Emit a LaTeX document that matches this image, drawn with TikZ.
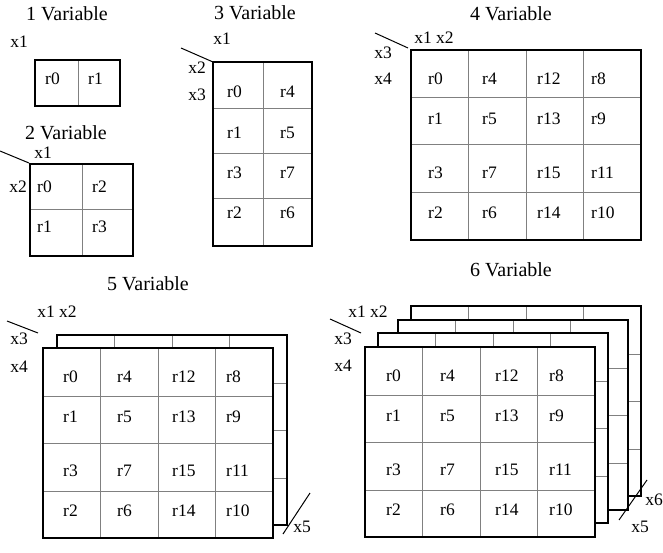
\documentclass[tikz,border=0pt]{standalone}
\usepackage{fontspec}
\setmainfont{Liberation Serif}
\newfontfamily\timesfam{Liberation Serif}
\tikzset{
  boxfill/.style={fill=white},
  outerline/.style={draw=black, line width=2pt, line join=miter},
  innerline/.style={draw=black!50, line width=1pt},
  lab/.style={font=\timesfam\fontsize{17.5}{20}\selectfont, inner sep=0pt},
  ttl/.style={font=\timesfam\fontsize{20}{24}\selectfont, inner sep=0pt},
  diag/.style={draw=black, line width=1pt},
}
\newcommand\kgrid[2]{%
  \begin{scope}[shift={(#1,#2)}]
    \path[boxfill] (0,0) rectangle (230,190);
    \draw[innerline] (57,0)--(57,190) (115,0)--(115,190) (172,0)--(172,190)
      (0,48)--(230,48) (0,95)--(230,95) (0,143)--(230,143);
    \draw[outerline] (0,0) rectangle (230,190);
  \end{scope}}
\newcommand\klabels[3]{%
  \begin{scope}[shift={(#2,#3)}]
    \foreach \t/\c/\r in {r0/0/29,r4/54/29,r12/109/29,r8/163/29,
                          r1/0/69,r5/54/69,r13/109/69,r9/163/69,
                          r3/0/123,r7/54/123,r15/109/123,r11/163/123,
                          r2/0/163,r6/54/163,r14/109/163,r10/163/163}
      \node[lab, anchor=west] (#1\t) at (\c,\r) {\t};
  \end{scope}}
\begin{document}
\begin{tikzpicture}[x=1pt,y=-1pt]
\useasboundingbox (0,0) rectangle (663,553);
\fill[white] (0,0) rectangle (663,553);

% ---------- 1 Variable ----------
\node[ttl] (t1) at (67,14) {1 Variable};
\node[lab] (v1x1) at (19,42) {x1};
\path[boxfill] (35,60) rectangle (120,106);
\draw[innerline] (78,60) -- (78,106);
\draw[outerline] (35,60) rectangle (120,106);
\node[lab, anchor=west] (v1r0) at (45,79) {r0};
\node[lab, anchor=west] (v1r1) at (88,79) {r1};

% ---------- 2 Variable ----------
\node[ttl] (t2) at (66,133) {2 Variable};
\node[lab] (v2x1) at (43,153) {x1};
\node[lab] (v2x2) at (18,187) {x2};
\coordinate (v2a) at (0,151);
\coordinate (v2b) at (29,163);
\draw[diag] (v2a) -- (v2b);
\path[boxfill] (30,164) rectangle (133,256);
\draw[innerline] (82,164) -- (82,256) (30,210) -- (133,210);
\draw[outerline] (30,164) rectangle (133,256);
\node[lab, anchor=west] (v2r0) at (37,187) {r0};
\node[lab, anchor=west] (v2r2) at (92,187) {r2};
\node[lab, anchor=west] (v2r1) at (37,227) {r1};
\node[lab, anchor=west] (v2r3) at (92,227) {r3};

% ---------- 3 Variable ----------
\node[ttl] (t3) at (255,13) {3 Variable};
\node[lab] (v3x1) at (222,39) {x1};
\node[lab] (v3x2) at (197,68) {x2};
\node[lab] (v3x3) at (197,95) {x3};
\coordinate (v3a) at (181,48);
\coordinate (v3b) at (213,62);
\draw[diag] (v3a) -- (v3b);
\path[boxfill] (213,62) rectangle (312,246);
\draw[innerline] (263,62) -- (263,246) (213,109) -- (312,109)
  (213,154) -- (312,154) (213,199) -- (312,199);
\draw[outerline] (213,62) rectangle (312,246);
\foreach \t/\xx/\yy in {r0/227/92,r4/280/92,r1/227/133,r5/280/133,
                        r3/227/173,r7/280/173,r2/227/213,r6/280/213}
  \node[lab, anchor=west] (v3\t) at (\xx,\yy) {\t};

% ---------- 4 Variable ----------
\node[ttl] (t4) at (511,14) {4 Variable};
\node[lab] (v4x12) at (434,38) {x1 x2};
\node[lab] (v4x3) at (383,53) {x3};
\node[lab] (v4x4) at (383,79) {x4};
\coordinate (v4a) at (375,33);
\coordinate (v4b) at (408,48);
\draw[diag] (v4a) -- (v4b);
\kgrid{411}{50}
\klabels{v4}{428}{50}

% ---------- 5 Variable ----------
\node[ttl] (t5) at (148,284) {5 Variable};
\node[lab] (v5x12) at (57,312) {x1 x2};
\node[lab] (v5x3) at (19,339) {x3};
\node[lab] (v5x4) at (19,367) {x4};
\coordinate (v5a) at (7,321);
\coordinate (v5b) at (38,333);
\draw[diag] (v5a) -- (v5b);
\kgrid{57}{335}
\kgrid{43}{348}
\klabels{v5}{63}{348}
\coordinate (v5c) at (283,534);
\coordinate (v5d) at (310,493);
\draw[diag] (v5c) -- (v5d);
\node[lab] (v5x5) at (302,527) {x5};

% ---------- 6 Variable ----------
\node[ttl] (t6) at (511,270) {6 Variable};
\node[lab] (v6x12) at (368,312) {x1 x2};
\node[lab] (v6x3) at (343,339) {x3};
\node[lab] (v6x4) at (343,366) {x4};
\coordinate (v6a) at (330,319);
\coordinate (v6b) at (361,333);
\draw[diag] (v6a) -- (v6b);
\kgrid{411}{306}
\kgrid{398}{320}
\kgrid{378}{333}
\kgrid{365}{347}
\klabels{v6}{386}{347}
\coordinate (v6c) at (619,520);
\coordinate (v6d) at (647,480);
\draw[diag] (v6c) -- (v6d);
\node[lab] (v6x6) at (654,500) {x6};
\node[lab] (v6x5) at (640,527) {x5};
\end{tikzpicture}
\end{document}
